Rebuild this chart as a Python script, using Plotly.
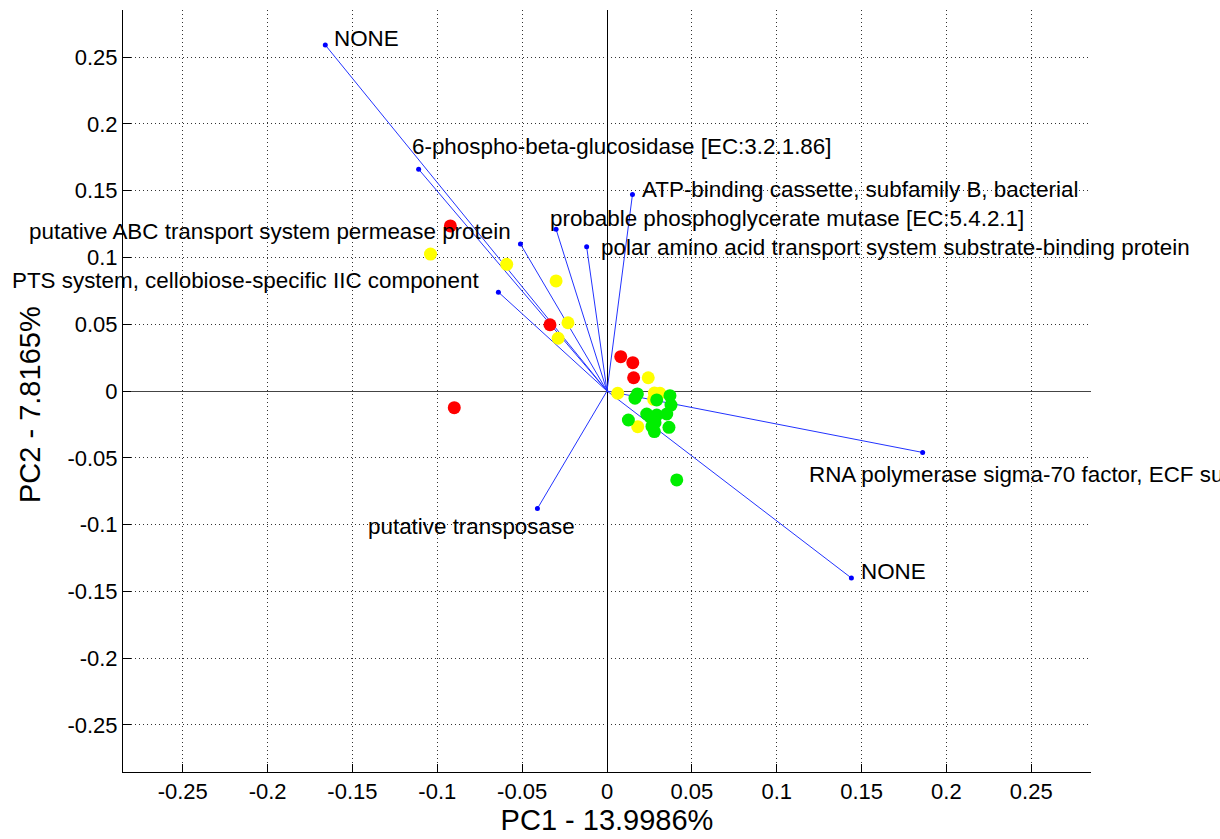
import plotly.graph_objects as go

# Loadings (variable vectors) on PC1 / PC2
vec_labels = [
    "NONE",
    "6-phospho-beta-glucosidase [EC:3.2.1.86]",
    "ATP-binding cassette, subfamily B, bacterial",
    "probable phosphoglycerate mutase [EC:5.4.2.1]",
    "putative ABC transport system permease protein",
    "polar amino acid transport system substrate-binding protein",
    "PTS system, cellobiose-specific IIC component",
    "putative transposase",
    "RNA polymerase sigma-70 factor, ECF subfamily",
    "NONE",
]
vec_pc1 = [-0.166, -0.111, 0.015, -0.030, -0.051, -0.012, -0.064, -0.041, 0.186, 0.144]
vec_pc2 = [0.259, 0.166, 0.147, 0.121, 0.110, 0.108, 0.074, -0.088, -0.046, -0.140]

# Sample scores, one list pair per group
red_pc1 = [-0.0923, -0.0336, -0.0900, 0.0081, 0.0152, 0.0157]
red_pc2 = [0.1236, 0.0496, -0.0125, 0.0257, 0.0212, 0.0099]

yellow_pc1 = [-0.1040, -0.0591, -0.0300, -0.0230, -0.0288, 0.0243, 0.0063,
              0.0279, 0.0312, 0.0275, 0.0181]
yellow_pc2 = [0.1025, 0.0948, 0.0824, 0.0511, 0.0395, 0.0099, -0.0017,
              -0.0015, -0.0017, -0.0062, -0.0267]

green_pc1 = [0.0179, 0.0165, 0.0293, 0.0371, 0.0377, 0.0234, 0.0293, 0.0352,
             0.0126, 0.0283, 0.0365, 0.0279, 0.0411, 0.0255, 0.0265]
green_pc2 = [-0.0022, -0.0054, -0.0067, -0.0035, -0.0105, -0.0172, -0.0180,
             -0.0172, -0.0217, -0.0237, -0.0272, -0.0304, -0.0666, -0.0195, -0.0265]

tick_vals = [-0.25, -0.2, -0.15, -0.1, -0.05, 0, 0.05, 0.1, 0.15, 0.2, 0.25]
tick_text = ["-0.25", "-0.2", "-0.15", "-0.1", "-0.05", "0",
             "0.05", "0.1", "0.15", "0.2", "0.25"]

x_title = "PC1 - 13.9986%"
y_title = "PC2 - 7.8165%"

# Where each vector label sits (data coords) and which side it hangs from
label_place = [
    (-0.162, 0.264, "left"),
    (-0.116, 0.1832, "left"),
    (0.0192, 0.1511, "left"),
    (-0.0348, 0.1294, "left"),
    (-0.0554, 0.1191, "right"),
    (-0.0047, 0.1077, "left"),
    (-0.0742, 0.0830, "right"),
    (-0.0177, -0.1017, "right"),
    (0.1181, -0.0623, "left"),
    (0.1484, -0.1352, "left"),
]

FONT = "Arial, 'Liberation Sans', Helvetica, sans-serif"
LIM = 0.2852

fig = go.Figure()

# vector segments from the origin to each loading
seg_x, seg_y = [], []
for px, py in zip(vec_pc1, vec_pc2):
    seg_x += [0, px, None]
    seg_y += [0, py, None]
fig.add_trace(go.Scatter(x=seg_x, y=seg_y, mode="lines",
                         line=dict(color="#2233ff", width=1),
                         hoverinfo="skip", showlegend=False))
fig.add_trace(go.Scatter(x=vec_pc1, y=vec_pc2, mode="markers",
                         marker=dict(color="#0000ff", size=5),
                         text=vec_labels, showlegend=False))

for xs, ys, col in [(red_pc1, red_pc2, "#ff0000"),
                    (yellow_pc1, yellow_pc2, "#ffff00"),
                    (green_pc1, green_pc2, "#00ee00")]:
    fig.add_trace(go.Scatter(x=xs, y=ys, mode="markers",
                             marker=dict(color=col, size=13, line=dict(width=0)),
                             showlegend=False))

for text, (lx, ly, side) in zip(vec_labels, label_place):
    fig.add_annotation(x=lx, y=ly, text=text, showarrow=False,
                       xanchor=side, yanchor="middle",
                       font=dict(family=FONT, size=22.4, color="black"))

axis_common = dict(
    range=[-LIM, LIM],
    tickmode="array", tickvals=tick_vals, ticktext=tick_text,
    ticks="inside", ticklen=8, tickcolor="black", tickwidth=1,
    showline=True, linecolor="black", linewidth=1, mirror=False,
    showgrid=True, gridcolor="#333333", griddash="1px,3px", gridwidth=1,
    tickfont=dict(family=FONT, size=22, color="black"),
    zeroline=True, zerolinewidth=1,
)

fig.update_xaxes(**axis_common, zerolinecolor="black",
                 title=dict(text=x_title, standoff=4,
                            font=dict(family=FONT, size=29, color="black")))
fig.update_yaxes(**axis_common, zerolinecolor="#444444")

# vertical axis title placed beside the tick labels
fig.add_annotation(x=-93 / 968, y=(772 - 405) / 762, xref="paper", yref="paper",
                   text=y_title, textangle=-90, showarrow=False,
                   xanchor="center", yanchor="middle",
                   font=dict(family=FONT, size=29, color="black"))

fig.update_layout(
    width=1220, height=839,
    margin=dict(l=123, r=129, t=10, b=67),
    paper_bgcolor="white", plot_bgcolor="white",
    font=dict(family=FONT, color="black"),
)

fig.write_html("out.html")
